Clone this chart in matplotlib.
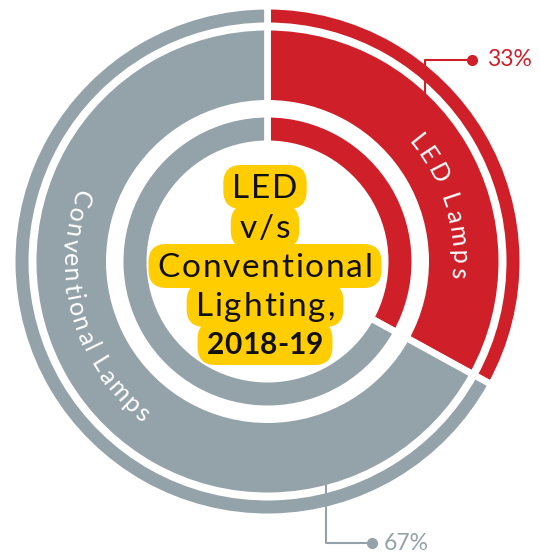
import matplotlib
matplotlib.use("Agg")
import matplotlib.pyplot as plt
from matplotlib.patches import FancyBboxPatch
import numpy as np

# ---------------- data ----------------
categories = ["LED Lamps", "Conventional Lamps"]
shares = [33, 67]
pct_labels = ["33%", "67%"]
title_lines = ["LED", "v/s", "Conventional", "Lighting,", "2018-19"]

# ---------------- style ----------------
RED = "#CF1F28"
GRAY = "#94A2A9"
YELLOW = "#FFCD00"
FONT = "Lato"
W, H = 540, 553
DPI = 100

fig = plt.figure(figsize=(W / DPI, H / DPI), dpi=DPI)
ax = fig.add_axes([0, 0, 1, 1])

def Y(y):  # image row -> data y
    return H - y

cx, cy = 267.5, Y(261.5)
lw_px = 6.7
lw_pt = lw_px * 72 / DPI
half = lw_px / 2

rings = [  # (inner radius, outer radius) in px
    (239, 252),
    (161.5, 231),
    (121, 144),
]
for r_in, r_out in rings:
    ax.pie(shares, colors=[RED, GRAY], radius=r_out + half, startangle=90,
           counterclock=False, center=(cx, cy),
           wedgeprops=dict(width=(r_out - r_in) + 2 * half,
                           edgecolor="white", linewidth=lw_pt))

ax.set_xlim(0, W)
ax.set_ylim(0, H)
ax.set_aspect("equal")
ax.axis("off")

renderer = fig.canvas.get_renderer()


def char_width(ch, fs, family, weight="normal"):
    if ch == " ":
        a = ax.text(0, 0, "i i", fontsize=fs, family=family, weight=weight)
        b = ax.text(0, 0, "ii", fontsize=fs, family=family, weight=weight)
        w = a.get_window_extent(renderer).width - b.get_window_extent(renderer).width
        a.remove(); b.remove()
        return w
    t = ax.text(0, 0, ch, fontsize=fs, family=family, weight=weight)
    w = t.get_window_extent(renderer).width
    t.remove()
    return w


def curved_text(s, r_base, th0, th1, tops_out, fs, color):
    widths = [char_width(c, fs, FONT) for c in s]
    total = sum(widths)
    arc = r_base * np.radians(abs(th1 - th0))
    extra = (arc - total) / (len(s) - 1) if len(s) > 1 else 0
    sign = 1 if th1 > th0 else -1
    pos = 0.0
    for c, w in zip(s, widths):
        mid = pos + w / 2
        th = th0 + sign * np.degrees(mid / r_base)
        x = cx + r_base * np.sin(np.radians(th))
        y = cy + r_base * np.cos(np.radians(th))
        rot = -th if tops_out else 180 - th
        ax.text(x, y, c, fontsize=fs, family=FONT, color=color,
                rotation=rot, rotation_mode="anchor", ha="center",
                va="baseline", zorder=5)
        pos += w + extra


curved_text(categories[0], 184, 49.5, 95, True, 18, "white")
curved_text(categories[1], 205, 291, 218, False, 18, "white")


def tracked_line(s, xc, yb, fs, track, weight, color):
    widths = [char_width(c, fs, FONT, weight) for c in s]
    total = sum(widths) + track * (len(s) - 1)
    x = xc - total / 2
    for c, w in zip(s, widths):
        ax.text(x, yb, c, fontsize=fs, family=FONT, weight=weight,
                ha="left", va="baseline", color=color, zorder=6)
        x += w + track
    return total


# ---------------- centre title ----------------
baselines = [198, 237.5, 277, 316, 354]
tx = 265
for i, (line, yb) in enumerate(zip(title_lines, baselines)):
    last = i == len(title_lines) - 1
    weight = "bold" if last else "normal"
    fs_t = 21.5 if last else 24
    track = 0.3 if last else 1.8
    w = tracked_line(line, tx, Y(yb), fs_t, track, weight, "#111111")
    hpad = 9
    box_h = 44
    ycen = Y(yb - 11)
    patch = FancyBboxPatch((tx - w / 2 - hpad, ycen - box_h / 2), w + 2 * hpad, box_h,
                           boxstyle="round,pad=0,rounding_size=18",
                           fc=YELLOW, ec="none", zorder=4)
    ax.add_patch(patch)

# ---------------- callouts ----------------
ax.plot([425, 425, 472], [Y(93), Y(60), Y(60)], color=RED, lw=1.5, zorder=3)
ax.plot([472], [Y(60)], "o", color=RED, ms=7, zorder=3)
ax.text(487, Y(60), pct_labels[0], fontsize=16.5, family=FONT, color=RED,
        ha="left", va="center")

ax.plot([326, 326, 372], [Y(485), Y(543), Y(543)], color=GRAY, lw=1.5, zorder=3)
ax.plot([372], [Y(543)], "o", color=GRAY, ms=7, zorder=3)
ax.text(384, Y(543), pct_labels[1], fontsize=16.5, family=FONT, color=GRAY,
        ha="left", va="center")

fig.savefig("out.png", dpi=DPI, facecolor="white")
